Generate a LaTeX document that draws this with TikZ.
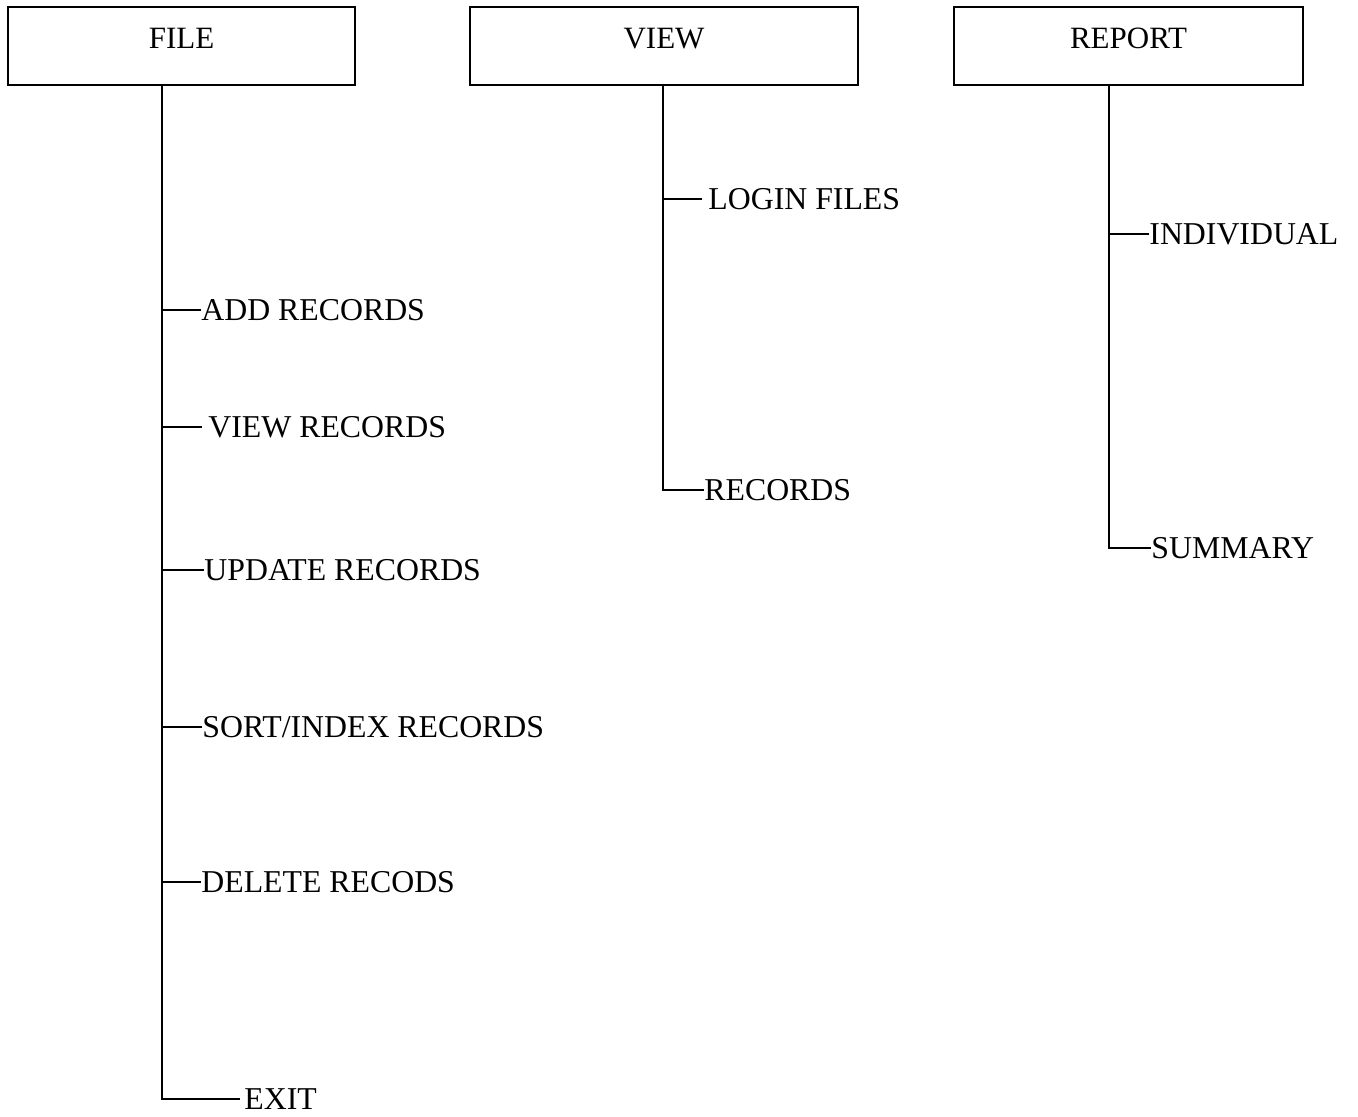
\documentclass[tikz,border=0pt]{standalone}
\usepackage{fontspec}
\setmainfont{Liberation Serif}
\begin{document}
\begin{tikzpicture}[x=0.5pt,y=-0.5pt,
  menubox/.style={draw,line width=0.9pt,minimum width=#1,minimum height=39pt,inner sep=0pt,
    font=\fontsize{15.5}{18}\selectfont,text height=10.3pt,text depth=8pt},
  item/.style={anchor=west,inner ysep=0pt,inner xsep=0pt,font=\fontsize{15.9}{18}\selectfont,
    text height=10.5pt,text depth=0pt},
  wire/.style={line width=0.9pt}]
\useasboundingbox (0,0) rectangle (1358,1117);
% top boxes
\node[menubox=173.5pt] (file) at (181.5,46) {FILE};
\node[menubox=194pt] (view) at (664,46) {VIEW};
\node[menubox=174.5pt] (report) at (1128.5,46) {REPORT};
% FILE items
\node[item] (add) at (201,310) {ADD RECORDS};
\node[item,inner xsep=3pt] (viewrec) at (202,427) {VIEW RECORDS};
\node[item] (upd) at (204,570) {UPDATE RECORDS};
\node[item] (sort) at (202,727) {SORT/INDEX RECORDS};
\node[item] (del) at (201,882) {DELETE RECODS};
\node[item,inner xsep=2pt] (exit) at (240,1099) {EXIT};
\coordinate (fe) at (162,1099);
\draw[wire] (file.south -| fe) -- (fe) -- (exit.west);
\foreach \n in {add,viewrec,upd,sort,del}
  \draw[wire] (\n.west -| fe) -- (\n.west);
% VIEW items
\node[item,inner xsep=3pt] (login) at (702,199) {LOGIN FILES};
\node[item] (records) at (704,490) {RECORDS};
\coordinate (ve) at (663,490);
\draw[wire] (view.south -| ve) -- (ve) -- (records.west);
\draw[wire] (login.west -| ve) -- (login.west);
% REPORT items
\node[item] (indiv) at (1149,234) {INDIVIDUAL};
\node[item] (summ) at (1151,548) {SUMMARY};
\coordinate (re) at (1109,548);
\draw[wire] (report.south -| re) -- (re) -- (summ.west);
\draw[wire] (indiv.west -| re) -- (indiv.west);
\end{tikzpicture}
\end{document}
